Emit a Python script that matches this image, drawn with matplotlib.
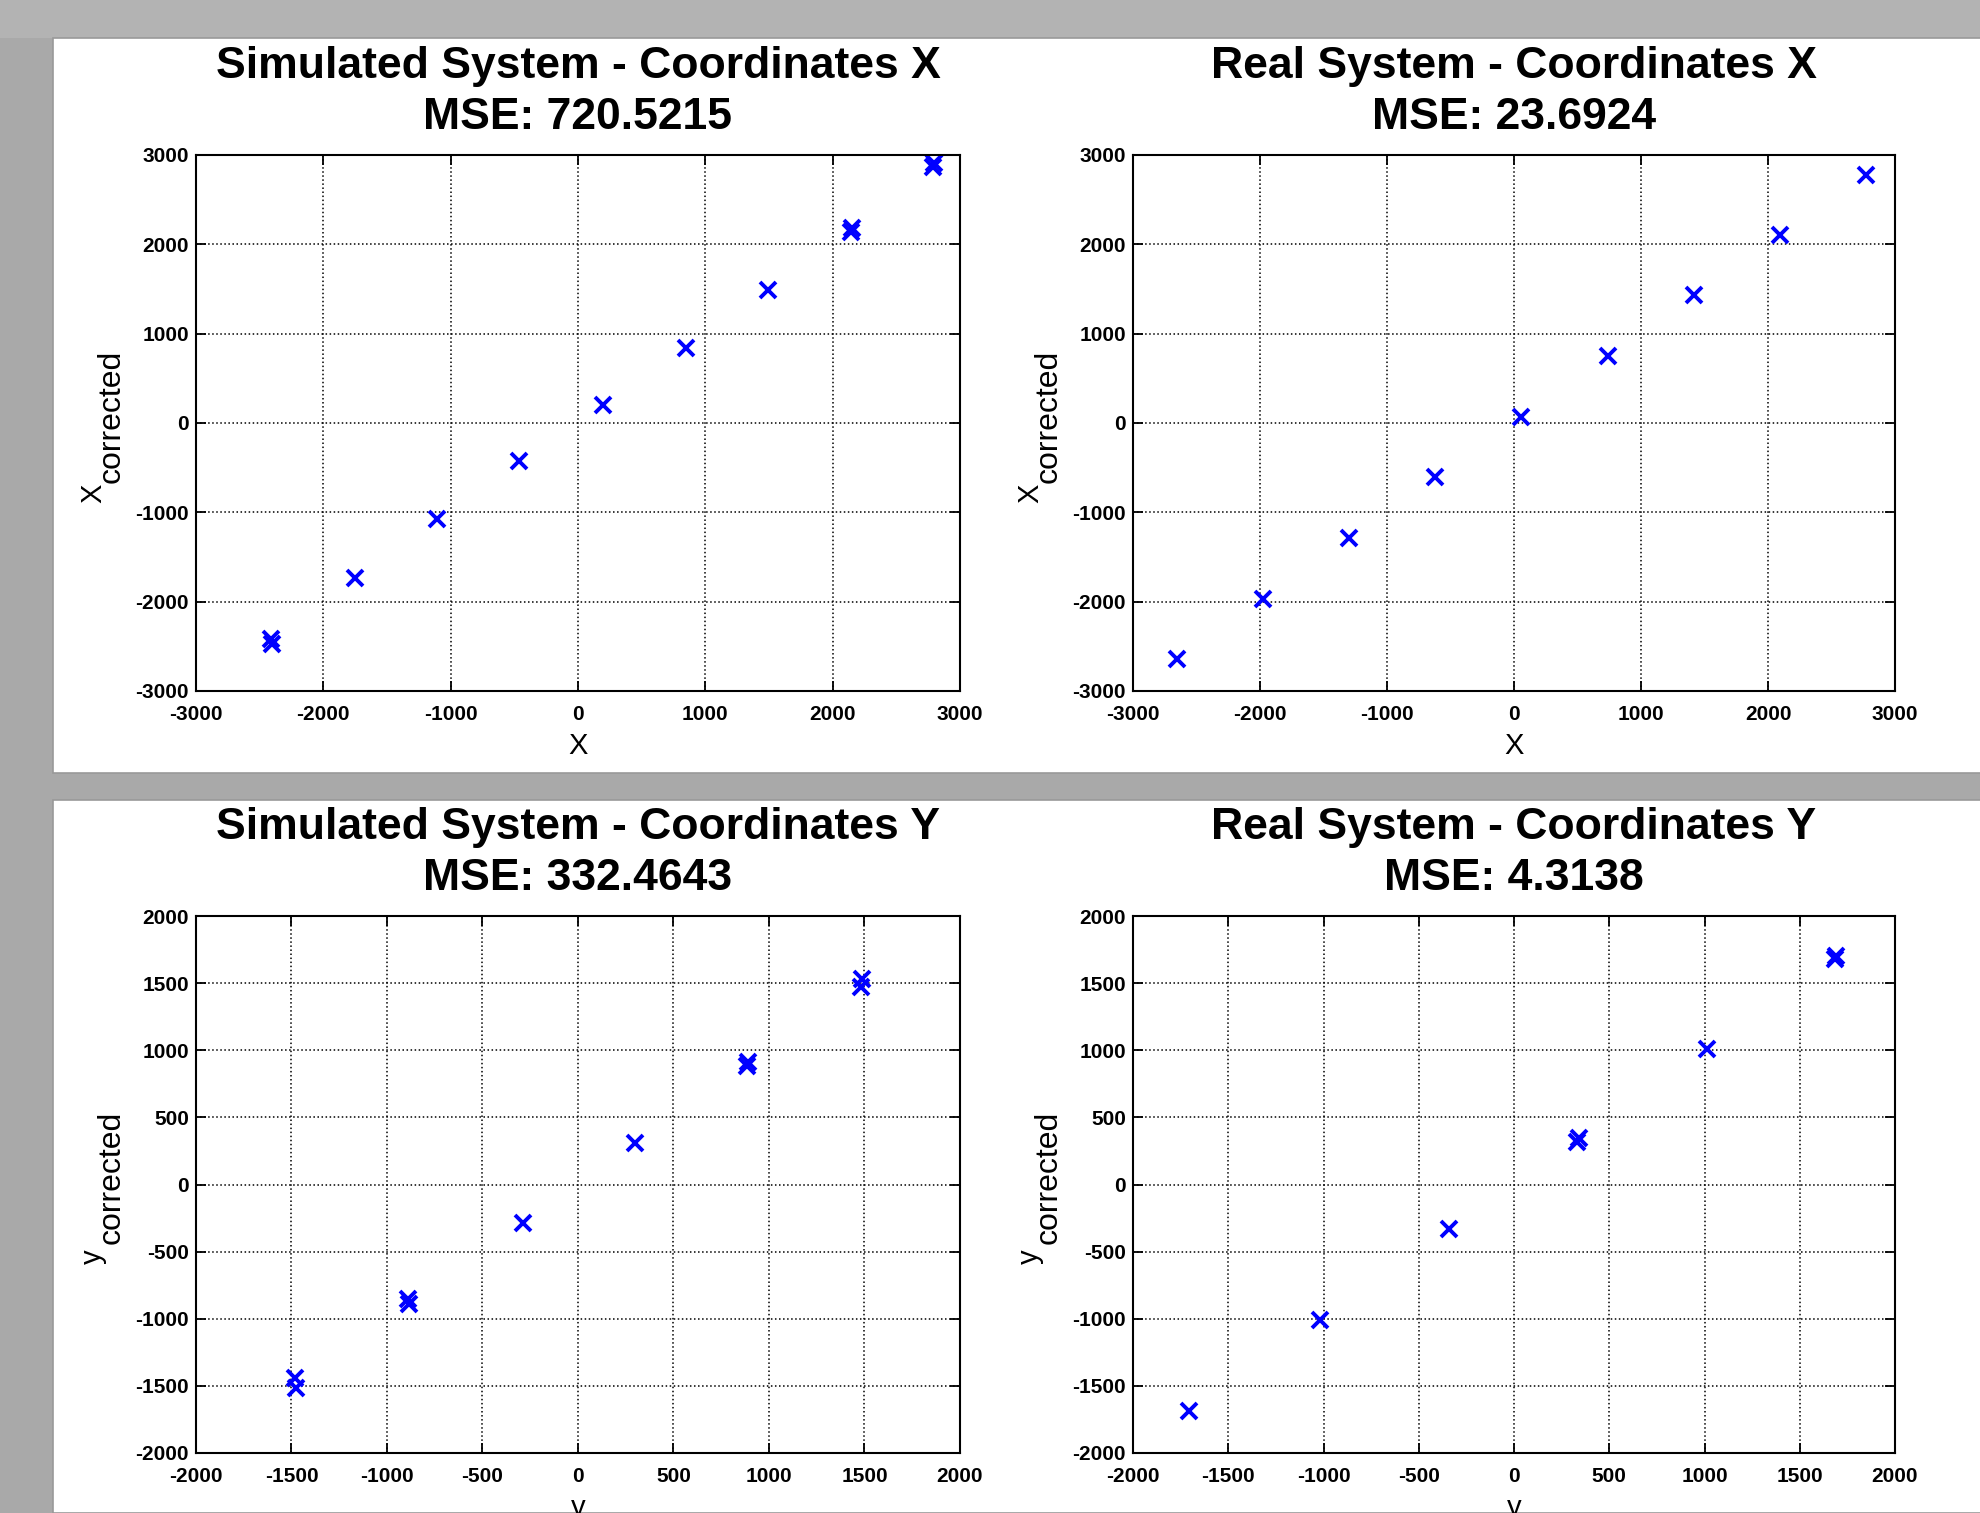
import matplotlib
matplotlib.use("Agg")
import matplotlib.pyplot as plt
from matplotlib.patches import Rectangle

plt.rcParams['font.family'] = ['Liberation Sans', 'DejaVu Sans']
plt.rcParams['axes.unicode_minus'] = False

# Simulated system, X coordinates
sim_x = [-2410, -2400, -1750, -1105, -460, 194, 849, 1494, 2145, 2152, 2790, 2797]
sim_xc = [-2420, -2470, -1738, -1074, -423, 200, 836, 1487, 2140, 2185, 2862, 2905]

# Real system, X coordinates
real_x = [-2652, -1975, -1299, -622, 55, 741, 1418, 2095, 2771]
real_xc = [-2644, -1965, -1286, -607, 72, 751, 1430, 2109, 2774]

# Simulated system, Y coordinates
sim_y = [-1482, -1474, -892, -886, -288, 301, 886, 892, 1480, 1488]
sim_yc = [-1445, -1515, -850, -890, -287, 306, 880, 915, 1470, 1530]

# Real system, Y coordinates
real_y = [-1708, -1018, -342, 330, 340, 1012, 1685, 1692]
real_yc = [-1689, -1012, -334, 320, 345, 1012, 1680, 1700]

titles = ["Simulated System - Coordinates X\nMSE: 720.5215",
          "Real System - Coordinates X\nMSE: 23.6924",
          "Simulated System - Coordinates Y\nMSE: 332.4643",
          "Real System - Coordinates Y\nMSE: 4.3138"]
xlabels = ["X", "X", "y", "y"]
ylabels = ["X", "X", "y", "y"]
limits = [3000, 3000, 2000, 2000]
steps = [1000, 1000, 500, 500]

W, H = 1981, 1513
fig = plt.figure(figsize=(W / 100, H / 100), dpi=100)
fig.patch.set_facecolor('#a9a9a9')

# gray slide backdrop: lighter strip on top, white panels
fig.add_artist(Rectangle((0, 1 - 38 / H), 1, 38 / H, transform=fig.transFigure,
                         facecolor='#b3b3b3', lw=0, zorder=0))
fig.add_artist(Rectangle((53 / W, 1 - 773 / H), 1, (773 - 38) / H,
                         transform=fig.transFigure, facecolor='white',
                         edgecolor='#999999', lw=1.2, zorder=0))
fig.add_artist(Rectangle((53 / W, 0), 1, 1 - 800 / H,
                         transform=fig.transFigure, facecolor='white',
                         edgecolor='#999999', lw=1.2, zorder=0))

boxes = [(196, 155, 960, 691), (1133, 155, 1895, 691),
         (196, 916, 960, 1453), (1133, 916, 1895, 1453)]
data = [(sim_x, sim_xc), (real_x, real_xc), (sim_y, sim_yc), (real_y, real_yc)]

for i in range(4):
    x0, y0, x1, y1 = boxes[i]
    ax = fig.add_axes([x0 / W, 1 - y1 / H, (x1 - x0) / W, (y1 - y0) / H])
    xs, ys = data[i]
    ax.plot(xs, ys, 'x', color='#0000ff', markersize=12, mew=2.8)
    lim = limits[i]
    ax.set_xlim(-lim, lim)
    ax.set_ylim(-lim, lim)
    ticks = list(range(-lim, lim + 1, steps[i]))
    ax.set_xticks(ticks)
    ax.set_yticks(ticks)
    ax.grid(True, linestyle=':', color='black', linewidth=1.1)
    ax.tick_params(direction='in', top=True, right=True, length=7, width=1.3,
                   labelsize=15, pad=5)
    ax.tick_params(axis='x', pad=10)
    for lab in ax.get_xticklabels() + ax.get_yticklabels():
        lab.set_fontweight('bold')
    for s in ax.spines.values():
        s.set_linewidth(1.5)
    ax.set_title(titles[i], fontsize=32, fontweight='bold', linespacing=1.3, pad=19)
    ax.set_xlabel(xlabels[i], fontsize=21, labelpad=6)

    # y label: big letter with a large "corrected" subscript, as in the slide
    cy = (y0 + y1) / 2
    fig.text((x0 - 103) / W, 1 - (cy + 80) / H, ylabels[i], rotation=90,
             ha='center', va='bottom', fontsize=21)
    fig.text((x0 - 84) / W, 1 - (cy + 60) / H, "corrected", rotation=90,
             ha='center', va='bottom', fontsize=23)

fig.savefig("out.png", dpi=100, facecolor=fig.get_facecolor())
